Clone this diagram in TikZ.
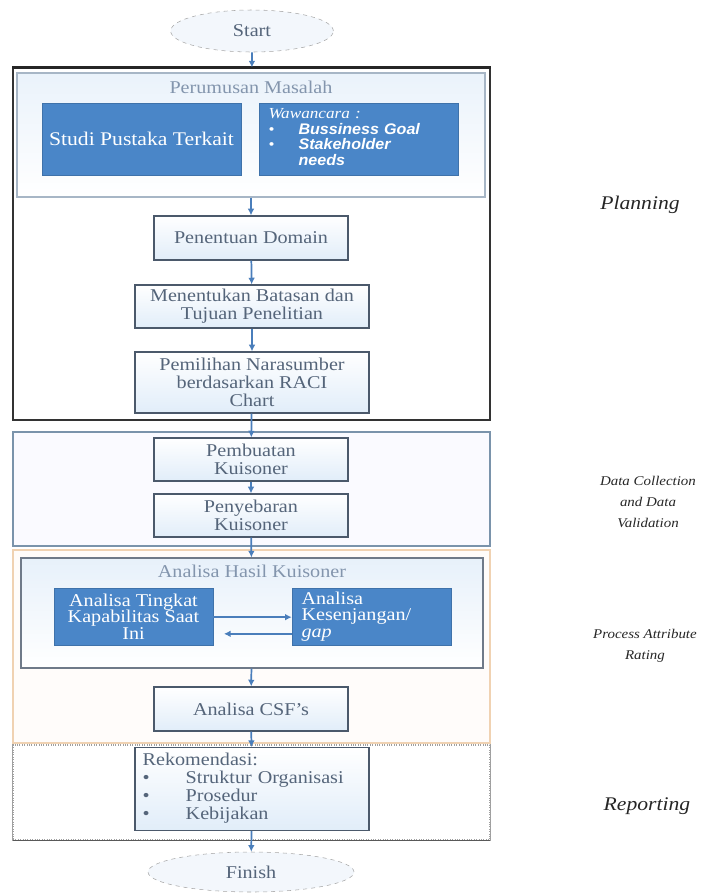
\documentclass[tikz,border=0pt]{standalone}
\usepackage{fontspec}
\setmainfont{Liberation Serif}[FakeStretch=1.12]
\newfontfamily\sanbi{Liberation Sans}[FakeStretch=1.05]
\usetikzlibrary{arrows.meta,shapes.geometric}

\definecolor{arrowc}{HTML}{4A7EBB}
\definecolor{bluefill}{HTML}{4A86C8}
\definecolor{boxline}{HTML}{4B596B}
\definecolor{boxfill}{HTML}{E1EDF9}
\definecolor{boxtext}{HTML}{55657A}
\definecolor{titletext}{HTML}{8395AD}
\definecolor{rumusline}{HTML}{A7B6C6}
\definecolor{datline}{HTML}{7A93AB}
\definecolor{procline}{HTML}{F0D2B2}
\definecolor{repline}{HTML}{A0A0A0}
\definecolor{termfill}{HTML}{F3F7FC}

\tikzset{
  grp/.style={rectangle, inner sep=0pt, line width=0.8pt},
  stagebox/.style={rectangle, draw=boxline, line width=0.9pt, top color=white,
    bottom color=boxfill, text=boxtext, align=center, inner sep=2pt},
  bluebox/.style={rectangle, fill=bluefill, draw=bluefill!85!black, text=white,
    inner sep=2pt, minimum width=149.25pt, minimum height=54pt},
  term/.style={ellipse, draw=gray!70, dashed, fill=termfill, text=boxtext,
    inner sep=0pt},
  flow/.style={-{Latex[length=5pt,width=5pt]}, draw=arrowc, line width=1.3pt},
  phase/.style={align=center, text=black!85}
}

\begin{document}
\begin{tikzpicture}[x=0.75pt, y=-0.75pt, font=\fontsize{13.5}{13.5}\selectfont]
  \useasboundingbox (0,0) rectangle (702,893);
  \path
    (251.5,244) node[grp, draw=black!80, minimum width=357.75pt, minimum height=264pt] (planbox) {}
    (251.5,489) node[grp, draw=datline, line width=1pt, fill=blue!2, minimum width=357.75pt, minimum height=85.5pt] (datbox) {}
    (251.5,646.5) node[grp, draw=procline, fill=orange!2, minimum width=357.75pt, minimum height=144.75pt] (procbox) {}
    (251.5,792.5) node[grp, draw=repline, densely dotted, minimum width=357.75pt, minimum height=71.25pt] (repbox) {};
  \draw[line width=2pt, black!85] (planbox.north west) -- (planbox.north east);
  \draw[line width=1.2pt, gray!70!black] (repbox.south west) -- (repbox.south east);
  \draw[line width=0.8pt, repline] (repbox.north west) -- (repbox.south west)
    (repbox.north east) -- (repbox.south east);
  \path
    (252,31) node[term, minimum width=122pt, minimum height=31.5pt] (start) {Start}
    (251,135) node[grp, draw=rumusline, top color=boxfill!70, bottom color=white,
      minimum width=351pt, minimum height=93pt,
      label={[anchor=north, text=titletext, yshift=-3pt]north:Perumusan Masalah}] (rumusbox) {}
    (141.5,139) node[bluebox, font=\fontsize{14.5}{15}\selectfont] (studi) {Studi Pustaka Terkait}
    (358.5,139) node[bluebox, text width=135pt, align=left, inner xsep=7pt, inner ysep=1pt,
      font=\fontsize{11.5}{12}\selectfont] (wawan)
      {\renewcommand{\arraystretch}{0.92}%
       \begin{tabular}{@{}l@{\hspace{18pt}}l@{}}
         \multicolumn{2}{@{}l@{}}{\itshape Wawancara :}\\
         \textbullet & {\sanbi\bfseries\itshape Bussiness Goal}\\
         \textbullet & {\sanbi\bfseries\itshape Stakeholder}\\
                     & {\sanbi\bfseries\itshape needs}
       \end{tabular}}
    (251,238) node[stagebox, minimum width=145.5pt, minimum height=33pt] (domain) {Penentuan Domain}
    (252,306.5) node[stagebox, minimum width=175.5pt, minimum height=32.25pt] (batasan)
      {Menentukan Batasan dan\\Tujuan Penelitian}
    (252,382.5) node[stagebox, minimum width=175.5pt, minimum height=45.75pt] (narsum)
      {Pemilihan Narasumber\\berdasarkan RACI\\Chart}
    (251,459.5) node[stagebox, minimum width=145.5pt, minimum height=32.25pt] (buat)
      {Pembuatan\\Kuisoner}
    (251,515.5) node[stagebox, minimum width=145.5pt, minimum height=32.25pt] (sebar)
      {Penyebaran\\Kuisoner}
    (252,613) node[grp, draw=boxline!80, top color=boxfill!80, bottom color=white,
      minimum width=346.5pt, minimum height=82.5pt,
      label={[anchor=north, text=titletext, yshift=-2pt]north:Analisa Hasil Kuisoner}] (hasilbox) {}
    (133.5,616.5) node[bluebox, minimum width=119.25pt, minimum height=42.75pt, inner ysep=0pt,
      align=center, font=\fontsize{13.5}{12.5}\selectfont] (tingkat)
      {Analisa Tingkat\\Kapabilitas Saat\\Ini}
    (371.5,616.5) node[bluebox, minimum width=119.25pt, minimum height=42.75pt,
      text width=105pt, align=left, inner xsep=7pt, inner ysep=0pt,
      font=\fontsize{13.5}{12.5}\selectfont] (gap)
      {Analisa\\Kesenjangan/\\{\itshape gap}}
    (251,709) node[stagebox, minimum width=145.5pt, minimum height=33pt] (csf) {Analisa CSF's}
    (252,789) node[stagebox, minimum width=175.5pt, minimum height=58.5pt, text width=164pt,
      align=left, inner sep=4pt] (rekom)
      {\begin{tabular}{@{}l@{\hspace{27pt}}l@{}}
         \multicolumn{2}{@{}l@{}}{Rekomendasi:}\\
         \textbullet & Struktur Organisasi\\
         \textbullet & Prosedur\\
         \textbullet & Kebijakan
       \end{tabular}}
    (251,872) node[term, minimum width=154.5pt, minimum height=30pt] (finish) {Finish};
  \path[font=\fontsize{14.5}{15}\selectfont\itshape]
    (640,205) node[phase] (planning) {Planning}
    (647,806) node[phase] (reporting) {Reporting};
  \path[font=\fontsize{10}{15.5}\selectfont\itshape]
    (648,502) node[phase] (datacoll) {Data Collection\\and Data\\Validation}
    (645,646) node[phase] (rating) {Process Attribute\\Rating};
  \begin{scope}[flow]
    \draw (start) to (planbox);
    \draw (rumusbox) to (domain);
    \draw (domain) to (batasan);
    \draw (batasan) to (narsum);
    \draw (narsum) to (buat);
    \draw (buat) to (sebar);
    \draw (sebar) to (hasilbox);
    \draw ([yshift=-0.5pt]tingkat.east) to ([yshift=-0.5pt]gap.west);
    \draw ([yshift=-13pt]gap.west) to ([yshift=-13pt,xshift=8pt]tingkat.east);
    \draw (hasilbox) to (csf);
    \draw (csf) to (rekom);
    \draw (rekom) to (finish);
  \end{scope}
\end{tikzpicture}
\end{document}
